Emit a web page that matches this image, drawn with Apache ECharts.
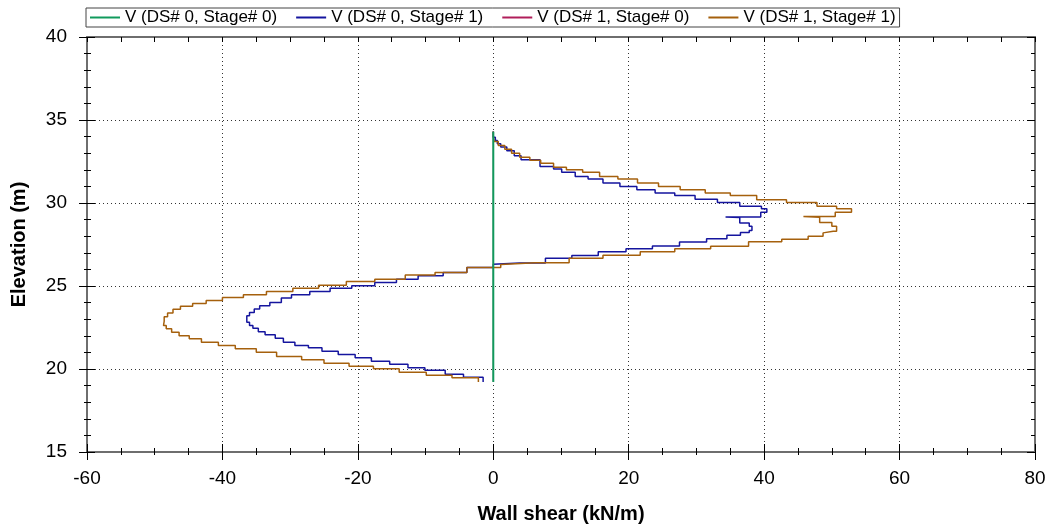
<!DOCTYPE html>
<html>
<head>
<meta charset="utf-8">
<script src="https://cdn.jsdelivr.net/npm/echarts@6/dist/echarts.min.js"></script>
<style>
html,body{margin:0;padding:0;background:#fff;}
#chart{width:1050px;height:526px;}
</style>
</head>
<body>
<div id="chart"></div>
<script>
// Series names (legend order)
const seriesNames = ['V (DS# 0, Stage# 0)', 'V (DS# 0, Stage# 1)', 'V (DS# 1, Stage# 0)', 'V (DS# 1, Stage# 1)'];

// DS# 0, Stage# 0 (zero shear over the wall)
const s00Elev  = [34.3, 19.22];
const s00Shear = [0, 0];

// DS# 1, Stage# 0 (zero shear over the wall)
const s10Elev  = [34.3, 19.22];
const s10Shear = [0, 0];

// DS# 0, Stage# 1 (elevation m, shear kN/m)
const s01Elev = [34.3, 33.96, 33.76, 33.57, 33.37, 33.15, 32.85, 32.6, 32.2, 32.05, 31.85, 31.6, 31.45, 31.2, 31.0, 30.8, 30.6, 30.45, 30.22, 30.03, 29.81, 29.65, 29.45, 29.15, 29.12, 28.8, 28.6, 28.35, 28.22, 28.05, 27.85, 27.65, 27.41, 27.25, 27.07, 26.83, 26.67, 26.39, 26.31, 26.11, 25.81, 25.61, 25.41, 25.21, 25.01, 24.87, 24.67, 24.47, 24.27, 24.01, 23.81, 23.62, 23.41, 23.21, 23.02, 22.81, 22.62, 22.45, 22.25, 22.06, 21.85, 21.61, 21.41, 21.28, 21.07, 20.88, 20.68, 20.47, 20.28, 20.08, 19.92, 19.68, 19.51, 19.22];
const s01Shear = [0, 0.3, 0.6, 1.1, 2.0, 3.1, 4.1, 6.9, 8.9, 10.1, 12.1, 14.0, 16.2, 18.7, 21.2, 23.9, 26.8, 29.8, 33.1, 36.4, 39.6, 40.4, 39.5, 34.3, 36.4, 37.8, 38.2, 37.8, 36.5, 34.5, 31.5, 27.5, 23.5, 19.6, 15.5, 11.6, 7.7, 3.9, 0, -3.9, -7.4, -11.1, -14.3, -17.5, -20.9, -24.1, -27.1, -29.8, -31.3, -33.0, -34.5, -35.3, -36.0, -36.4, -36.4, -36.0, -35.5, -34.7, -33.7, -32.2, -31.0, -29.3, -27.3, -25.3, -22.9, -20.4, -18.0, -15.3, -12.6, -10.1, -7.1, -4.4, -1.5, -1.5];

// DS# 1, Stage# 1
const s11Elev = [34.3, 34.0, 33.7, 33.47, 33.24, 33.0, 32.76, 32.57, 32.4, 32.16, 32.0, 31.85, 31.6, 31.45, 31.2, 31.0, 30.8, 30.6, 30.45, 30.2, 30.03, 29.8, 29.65, 29.45, 29.18, 29.14, 28.82, 28.6, 28.3, 28.2, 28.0, 27.82, 27.67, 27.4, 27.25, 27.07, 26.85, 26.67, 26.4, 26.3, 26.11, 25.81, 25.67, 25.41, 25.27, 25.05, 24.87, 24.67, 24.47, 24.3, 24.12, 23.95, 23.78, 23.6, 23.38, 23.15, 22.88, 22.62, 22.42, 22.21, 22.01, 21.82, 21.61, 21.41, 21.22, 21.01, 20.76, 20.56, 20.35, 20.16, 20.02, 19.81, 19.62, 19.48, 19.22];
const s11Shear = [0, 0.15, 0.74, 1.7, 2.7, 3.9, 5.4, 7.0, 8.9, 10.8, 13.2, 15.7, 18.4, 21.3, 24.4, 27.6, 31.3, 35.0, 38.9, 43.3, 47.8, 50.7, 52.9, 50.5, 45.8, 48.2, 50.0, 50.7, 50.2, 48.7, 46.5, 42.6, 37.7, 32.1, 26.8, 21.7, 16.2, 11.2, 6.2, 1.1, -3.9, -8.6, -13.0, -17.5, -21.7, -25.8, -29.6, -33.5, -36.9, -40.0, -42.4, -44.4, -46.2, -47.3, -48.1, -48.6, -48.7, -48.3, -47.5, -46.4, -44.9, -43.1, -40.6, -38.1, -35.0, -32.0, -28.3, -25.0, -21.3, -17.7, -13.9, -9.9, -6.1, -2.2, -2.2];

// Axis ticks
const xMin = -60, xMax = 80, xStep = 20;
const yMin = 15, yMax = 40, yStep = 5;

const colors = ['#109a5c', '#15159e', '#b01e5a', '#a5600d'];
const FONT = 'Liberation Sans, Arial, sans-serif';

function pairs(xs, ys) { return ys.map((y, i) => [xs[i], y]); }

const chart = echarts.init(document.getElementById('chart'), null, {renderer: 'canvas'});

const axisLineStyle = {show: true, onZero: false, lineStyle: {color: '#6e6e6e', width: 2}};
const noLine = {show: false, onZero: false};
const dotted = {show: true, lineStyle: {color: '#333', width: 1, type: [1, 3]}};

function lineSeries(name, data, color, z, w) {
  return {
    name: name, type: 'line', data: data, step: 'start', symbol: 'none',
    lineStyle: {color: color, width: w}, itemStyle: {color: color},
    z: z, silent: true
  };
}

const option = {
  animation: false,
  backgroundColor: '#fff',
  textStyle: {fontFamily: FONT},
  legend: {
    data: seriesNames,
    left: 86, top: 8,
    icon: 'rect', itemWidth: 30, itemHeight: 2, itemGap: 19,
    padding: [1, 4],
    borderColor: '#444', borderWidth: 1,
    textStyle: {fontFamily: FONT, fontSize: 17, color: '#000', lineHeight: 17}
  },
  grid: {left: 87, right: 15, top: 37, bottom: 74, containLabel: false, outerBoundsMode: 'none'},
  xAxis: [
    {
      type: 'value', position: 'bottom', min: xMin, max: xMax, interval: xStep,
      axisLine: axisLineStyle,
      axisTick: {show: true, inside: true, length: 8, lineStyle: {color: '#000'}},
      minorTick: {show: true, splitNumber: 4, length: 4, lineStyle: {color: '#000'}},
      axisLabel: {fontSize: 19, color: '#000', margin: 17, fontFamily: FONT},
      splitLine: dotted,
      name: 'Wall shear (kN/m)', nameLocation: 'middle', nameGap: 52,
      nameTextStyle: {fontSize: 20, fontWeight: 'bold', color: '#000', fontFamily: FONT}
    },
    {
      type: 'value', position: 'bottom', min: xMin, max: xMax, interval: xStep,
      axisLine: noLine,
      axisTick: {show: true, inside: false, length: 8, lineStyle: {color: '#000'}},
      minorTick: {show: true, splitNumber: 4, length: 3, lineStyle: {color: '#000'}},
      axisLabel: {show: false}, splitLine: {show: false}
    },
    {
      type: 'value', position: 'top', min: xMin, max: xMax, interval: xStep,
      axisLine: axisLineStyle,
      axisTick: {show: true, inside: true, length: 5, lineStyle: {color: '#000'}},
      minorTick: {show: true, splitNumber: 4, length: 5, lineStyle: {color: '#000'}},
      axisLabel: {show: false}, splitLine: {show: false}
    }
  ],
  yAxis: [
    {
      type: 'value', position: 'left', min: yMin, max: yMax, interval: yStep,
      axisLine: axisLineStyle,
      axisTick: {show: true, inside: true, length: 8, lineStyle: {color: '#000'}},
      minorTick: {show: true, splitNumber: 5, length: 4, lineStyle: {color: '#000'}},
      axisLabel: {fontSize: 19, color: '#000', margin: 20, fontFamily: FONT},
      splitLine: dotted,
      name: 'Elevation (m)', nameLocation: 'middle', nameGap: 58,
      nameTextStyle: {fontSize: 20, fontWeight: 'bold', color: '#000', fontFamily: FONT}
    },
    {
      type: 'value', position: 'left', min: yMin, max: yMax, interval: yStep,
      axisLine: noLine,
      axisTick: {show: true, inside: false, length: 8, lineStyle: {color: '#000'}},
      minorTick: {show: true, splitNumber: 5, length: 3, lineStyle: {color: '#000'}},
      axisLabel: {show: false}, splitLine: {show: false}
    },
    {
      type: 'value', position: 'right', min: yMin, max: yMax, interval: yStep,
      axisLine: axisLineStyle,
      axisTick: {show: true, inside: true, length: 8, lineStyle: {color: '#000'}},
      minorTick: {show: true, splitNumber: 5, length: 4, lineStyle: {color: '#000'}},
      axisLabel: {show: false}, splitLine: {show: false}
    }
  ],
  series: [
    lineSeries(seriesNames[1], pairs(s01Shear, s01Elev), colors[1], 2, 1.5),
    lineSeries(seriesNames[3], pairs(s11Shear, s11Elev), colors[3], 3, 1.5),
    lineSeries(seriesNames[2], pairs(s10Shear, s10Elev), colors[2], 4, 1),
    lineSeries(seriesNames[0], pairs(s00Shear, s00Elev), colors[0], 5, 2)
  ]
};
chart.setOption(option);
</script>
</body>
</html>
